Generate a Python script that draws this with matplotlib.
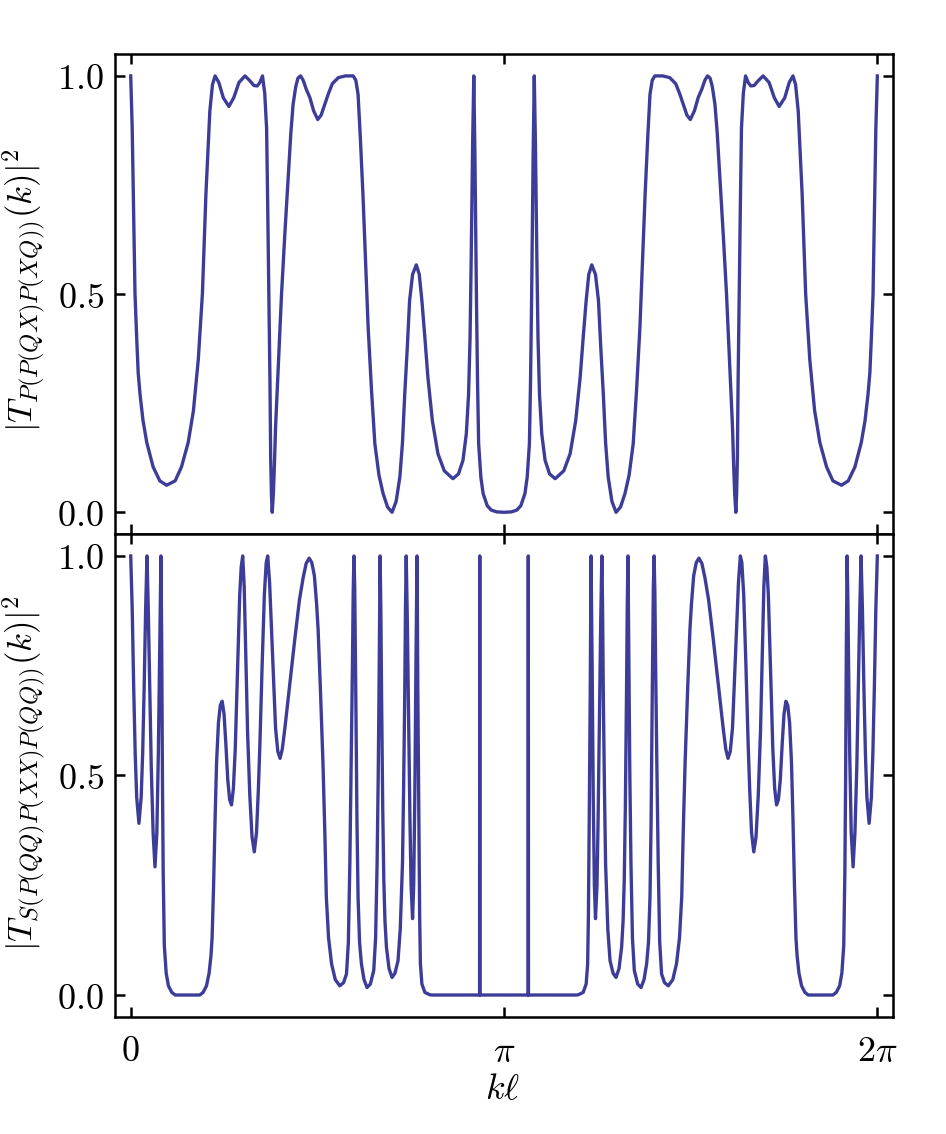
import numpy as np
import matplotlib
matplotlib.use("Agg")
import matplotlib.pyplot as plt

plt.rcParams['mathtext.fontset'] = 'cm'
plt.rcParams['font.family'] = ['DejaVu Serif']

# k*l in units of pi, transmission
top_x = [0.000, 0.004, 0.007, 0.0115, 0.016, 0.020, 0.025, 0.033, 0.043, 0.060,
         0.078, 0.096, 0.119, 0.136, 0.154, 0.168, 0.181, 0.192, 0.2015, 0.212,
         0.219, 0.226, 0.236, 0.248, 0.263, 0.276, 0.290, 0.306, 0.318, 0.330,
         0.339, 0.346, 0.353, 0.359, 0.364, 0.367, 0.370, 0.373, 0.375, 0.377,
         0.379, 0.382, 0.385, 0.388, 0.396, 0.404, 0.413, 0.422, 0.429, 0.435,
         0.442, 0.448, 0.455, 0.462, 0.470, 0.480, 0.490, 0.501, 0.510, 0.520,
         0.529, 0.540, 0.556, 0.575, 0.596, 0.603, 0.609, 0.615, 0.622, 0.629,
         0.636, 0.645, 0.654, 0.665, 0.676, 0.688, 0.700, 0.711, 0.721, 0.728,
         0.734, 0.741, 0.747, 0.755, 0.765, 0.773, 0.780, 0.788, 0.796, 0.808,
         0.823, 0.840, 0.863, 0.878, 0.890, 0.899, 0.905, 0.909, 0.912, 0.916,
         0.919, 0.922, 0.926, 0.929, 0.932, 0.938, 0.944, 0.955, 0.966, 0.980,
         1.000,
         1.020, 1.034, 1.045, 1.056, 1.062, 1.068, 1.071, 1.074, 1.078, 1.081,
         1.084, 1.088, 1.091, 1.095, 1.101, 1.110, 1.122, 1.137, 1.160, 1.177,
         1.192, 1.204, 1.212, 1.220, 1.227, 1.235, 1.245, 1.253, 1.259, 1.266,
         1.272, 1.279, 1.289, 1.300, 1.312, 1.324, 1.335, 1.346, 1.355, 1.364,
         1.371, 1.378, 1.385, 1.391, 1.397, 1.404, 1.425, 1.444, 1.460, 1.471,
         1.480, 1.490, 1.499, 1.510, 1.520, 1.530, 1.538, 1.545, 1.552, 1.558,
         1.565, 1.571, 1.578, 1.587, 1.596, 1.604, 1.612, 1.615, 1.618, 1.621,
         1.623, 1.625, 1.627, 1.630, 1.633, 1.636, 1.641, 1.647, 1.654, 1.661,
         1.670, 1.682, 1.694, 1.710, 1.724, 1.737, 1.752, 1.764, 1.774, 1.781,
         1.788, 1.7985, 1.808, 1.819, 1.832, 1.846, 1.864, 1.881, 1.904, 1.922,
         1.940, 1.957, 1.967, 1.975, 1.980, 1.984, 1.9885, 1.993, 1.996, 2.000]
top_T = [1.0, 0.88, 0.73, 0.50, 0.40, 0.32, 0.27, 0.21, 0.16, 0.104,
         0.072, 0.062, 0.072, 0.104, 0.16, 0.233, 0.35, 0.50, 0.73, 0.92,
         0.98, 1.0, 0.985, 0.950, 0.930, 0.950, 0.985, 1.0, 0.99, 0.978,
         0.977, 0.985, 1.0, 0.96, 0.88, 0.70, 0.50, 0.30, 0.12, 0.04,
         0.0, 0.04, 0.11, 0.195, 0.35, 0.50, 0.64, 0.77, 0.87, 0.935,
         0.975, 0.995, 1.0, 0.99, 0.97, 0.950, 0.92, 0.90, 0.91, 0.935,
         0.958, 0.982, 0.996, 1.0, 1.0, 0.99, 0.958, 0.86, 0.73, 0.58,
         0.424, 0.28, 0.157, 0.085, 0.043, 0.012, 0.0, 0.025, 0.081, 0.16,
         0.27, 0.38, 0.485, 0.545, 0.567, 0.545, 0.485, 0.40, 0.31, 0.21,
         0.134, 0.095, 0.077, 0.088, 0.119, 0.18, 0.27, 0.40, 0.58, 0.85,
         1.0, 0.82, 0.50, 0.30, 0.157, 0.08, 0.043, 0.015, 0.005, 0.001,
         0.0,
         0.001, 0.005, 0.015, 0.043, 0.08, 0.157, 0.30, 0.50, 0.82, 1.0,
         0.85, 0.58, 0.40, 0.27, 0.18, 0.119, 0.088, 0.077, 0.095, 0.134,
         0.21, 0.31, 0.40, 0.485, 0.545, 0.567, 0.545, 0.485, 0.38, 0.27,
         0.16, 0.081, 0.025, 0.0, 0.012, 0.043, 0.085, 0.157, 0.28, 0.424,
         0.58, 0.73, 0.86, 0.958, 0.99, 1.0, 1.0, 0.996, 0.982, 0.958,
         0.935, 0.91, 0.90, 0.92, 0.950, 0.97, 0.99, 1.0, 0.995, 0.975,
         0.935, 0.87, 0.77, 0.64, 0.50, 0.35, 0.195, 0.11, 0.04, 0.0,
         0.04, 0.12, 0.30, 0.50, 0.70, 0.88, 0.96, 1.0, 0.985, 0.977,
         0.978, 0.99, 1.0, 0.985, 0.950, 0.930, 0.950, 0.985, 1.0, 0.98,
         0.92, 0.73, 0.50, 0.35, 0.233, 0.16, 0.104, 0.072, 0.062, 0.072,
         0.104, 0.16, 0.21, 0.27, 0.32, 0.40, 0.50, 0.73, 0.88, 1.0]

bot_x = [0.000, 0.004, 0.008, 0.012, 0.016, 0.022, 0.028, 0.032, 0.036, 0.040,
         0.0436, 0.047, 0.051, 0.055, 0.060, 0.065, 0.070, 0.074, 0.077, 0.079,
         0.081, 0.083, 0.085, 0.087, 0.090, 0.095, 0.101, 0.110, 0.119, 0.185,
         0.194, 0.203, 0.210, 0.215, 0.218, 0.222, 0.226, 0.230, 0.235, 0.240,
         0.245, 0.250, 0.255, 0.260, 0.265, 0.270, 0.275, 0.280, 0.284, 0.288,
         0.292, 0.296, 0.300, 0.304, 0.308, 0.313, 0.319, 0.325, 0.331, 0.337,
         0.342, 0.346, 0.352, 0.358, 0.363, 0.367, 0.372, 0.377, 0.383, 0.388,
         0.394, 0.400, 0.406, 0.413, 0.425, 0.440, 0.452, 0.462, 0.470, 0.478,
         0.485, 0.492, 0.498, 0.502, 0.508, 0.515, 0.520, 0.524, 0.530, 0.538,
         0.548, 0.560, 0.570, 0.578, 0.583, 0.587, 0.591, 0.594, 0.596, 0.598,
         0.600, 0.603, 0.606, 0.609, 0.613, 0.618, 0.625, 0.633, 0.642, 0.651,
         0.656, 0.660, 0.663, 0.665, 0.667, 0.668, 0.670, 0.672, 0.675, 0.678,
         0.681, 0.685, 0.692, 0.700, 0.708, 0.716, 0.722, 0.728, 0.731, 0.734,
         0.736, 0.738, 0.741, 0.745, 0.748, 0.751, 0.755, 0.758, 0.761, 0.764,
         0.767, 0.769, 0.772, 0.774, 0.776, 0.780, 0.788, 0.800, 0.805, 0.9345,
         0.935, 0.9355, 1.000,
         1.0645, 1.065,
         1.0655, 1.195, 1.200, 1.212, 1.220, 1.224, 1.226, 1.228, 1.231, 1.233,
         1.236, 1.239, 1.242, 1.245, 1.249, 1.252, 1.255, 1.259, 1.262, 1.264,
         1.266, 1.269, 1.272, 1.278, 1.284, 1.292, 1.300, 1.308, 1.315, 1.319,
         1.322, 1.325, 1.328, 1.330, 1.332, 1.333, 1.335, 1.337, 1.340, 1.344,
         1.349, 1.358, 1.367, 1.375, 1.382, 1.387, 1.391, 1.394, 1.397, 1.400,
         1.402, 1.404, 1.406, 1.409, 1.413, 1.417, 1.422, 1.430, 1.440, 1.452,
         1.462, 1.470, 1.476, 1.480, 1.485, 1.492, 1.498, 1.502, 1.508, 1.515,
         1.522, 1.530, 1.538, 1.548, 1.560, 1.575, 1.587, 1.594, 1.600, 1.606,
         1.612, 1.617, 1.623, 1.628, 1.633, 1.637, 1.642, 1.648, 1.654, 1.658,
         1.663, 1.669, 1.675, 1.681, 1.687, 1.692, 1.696, 1.700, 1.704, 1.708,
         1.712, 1.716, 1.720, 1.725, 1.730, 1.735, 1.740, 1.745, 1.750, 1.755,
         1.760, 1.765, 1.770, 1.774, 1.778, 1.782, 1.785, 1.790, 1.797, 1.806,
         1.815, 1.881, 1.890, 1.899, 1.905, 1.910, 1.913, 1.915, 1.917, 1.919,
         1.921, 1.923, 1.926, 1.930, 1.935, 1.940, 1.945, 1.949, 1.953, 1.9564,
         1.960, 1.964, 1.968, 1.972, 1.978, 1.984, 1.988, 1.992, 1.996, 2.000]
bot_T = [1.0, 0.88, 0.70, 0.55, 0.45, 0.391, 0.45, 0.55, 0.70, 0.88,
         1.0, 0.88, 0.70, 0.52, 0.37, 0.292, 0.37, 0.55, 0.75, 0.90,
         1.0, 0.80, 0.49, 0.28, 0.113, 0.05, 0.021, 0.006, 0.0, 0.0,
         0.006, 0.021, 0.05, 0.09, 0.13, 0.25, 0.40, 0.53, 0.62, 0.66,
         0.669, 0.64, 0.57, 0.49, 0.445, 0.433, 0.47, 0.56, 0.68, 0.80,
         0.912, 0.975, 1.0, 0.93, 0.78, 0.60, 0.455, 0.36, 0.326, 0.37,
         0.47, 0.570, 0.75, 0.912, 0.985, 1.0, 0.94, 0.836, 0.71, 0.608,
         0.555, 0.539, 0.56, 0.608, 0.70, 0.814, 0.90, 0.951, 0.983, 0.995,
         0.985, 0.955, 0.89, 0.832, 0.70, 0.528, 0.37, 0.223, 0.13, 0.071,
         0.035, 0.021, 0.028, 0.048, 0.12, 0.30, 0.55, 0.756, 0.92, 1.0,
         0.93, 0.68, 0.40, 0.223, 0.12, 0.071, 0.035, 0.017, 0.025, 0.056,
         0.13, 0.30, 0.50, 0.68, 0.90, 1.0, 0.88, 0.68, 0.43, 0.261,
         0.17, 0.109, 0.06, 0.040, 0.05, 0.078, 0.15, 0.30, 0.47, 0.68,
         0.88, 1.0, 0.85, 0.60, 0.40, 0.25, 0.174, 0.25, 0.45, 0.75,
         1.0, 0.70, 0.375, 0.18, 0.071, 0.025, 0.006, 0.001, 0.0, 0.0,
         1.0, 0.0, 0.0,
         0.0, 1.0,
         0.0, 0.0, 0.001, 0.006, 0.025, 0.071, 0.18, 0.375, 0.70, 1.0,
         0.75, 0.45, 0.25, 0.174, 0.25, 0.40, 0.60, 0.85, 1.0, 0.88,
         0.68, 0.47, 0.30, 0.15, 0.078, 0.05, 0.040, 0.06, 0.109, 0.17,
         0.261, 0.43, 0.68, 0.88, 1.0, 0.90, 0.68, 0.50, 0.30, 0.13,
         0.056, 0.025, 0.017, 0.035, 0.071, 0.12, 0.223, 0.40, 0.68, 0.93,
         1.0, 0.92, 0.756, 0.55, 0.30, 0.12, 0.048, 0.028, 0.021, 0.035,
         0.071, 0.13, 0.223, 0.37, 0.528, 0.70, 0.832, 0.89, 0.955, 0.985,
         0.995, 0.983, 0.951, 0.90, 0.814, 0.70, 0.608, 0.56, 0.539, 0.555,
         0.608, 0.71, 0.836, 0.94, 1.0, 0.985, 0.912, 0.75, 0.570, 0.47,
         0.37, 0.326, 0.36, 0.455, 0.60, 0.78, 0.93, 1.0, 0.975, 0.912,
         0.80, 0.68, 0.56, 0.47, 0.433, 0.445, 0.49, 0.57, 0.64, 0.669,
         0.66, 0.62, 0.53, 0.40, 0.25, 0.13, 0.09, 0.05, 0.021, 0.006,
         0.0, 0.0, 0.006, 0.021, 0.05, 0.113, 0.28, 0.49, 0.80, 1.0,
         0.90, 0.75, 0.55, 0.37, 0.292, 0.37, 0.52, 0.70, 0.88, 1.0,
         0.88, 0.70, 0.55, 0.45, 0.391, 0.45, 0.55, 0.70, 0.88, 1.0]

x_ticks = [0, np.pi, 2 * np.pi]
x_ticklabels = ['$0$', r'$\pi$', r'$2\pi$']
y_ticks = [0.0, 0.5, 1.0]
y_ticklabels = ['$0.0$', '$0.5$', '$1.0$']

color = '#3d3d99'

fig = plt.figure(figsize=(9.46, 11.34), dpi=100)
ax1 = fig.add_axes([0.1216, 0.529, 0.8224, 0.4233])
ax2 = fig.add_axes([0.1216, 0.1032, 0.8224, 0.4259])

ax1.plot(np.array(top_x) * np.pi, top_T, color=color, lw=2.4,
         solid_joinstyle='round')
ax2.plot(np.array(bot_x) * np.pi, bot_T, color=color, lw=2.4,
         solid_joinstyle='round')

for ax in (ax1, ax2):
    ax.set_xlim(-0.042 * np.pi, 2.042 * np.pi)
    ax.set_ylim(-0.05, 1.05)
    ax.set_xticks(x_ticks)
    ax.set_yticks(y_ticks)
    ax.set_yticklabels(y_ticklabels)
    ax.tick_params(direction='in', top=True, right=True, length=7, width=1.8,
                   labelsize=26, pad=8)
    for s in ax.spines.values():
        s.set_linewidth(1.8)

ax1.set_xticklabels([])
ax2.set_xticklabels(x_ticklabels)
ax2.tick_params(axis='x', pad=12)

fig.text(0.026, 0.744, r'$|T_{P(P(QX)P(XQ))}(k)|^2$', rotation=90,
         ha='center', va='center', fontsize=25)
fig.text(0.026, 0.318, r'$|T_{S(P(QQ)P(XX)P(QQ))}(k)|^2$', rotation=90,
         ha='center', va='center', fontsize=25)
fig.text(0.5317, 0.040, r'$k\ell$', ha='center', va='center', fontsize=26)

plt.savefig('out.png', dpi=100)
